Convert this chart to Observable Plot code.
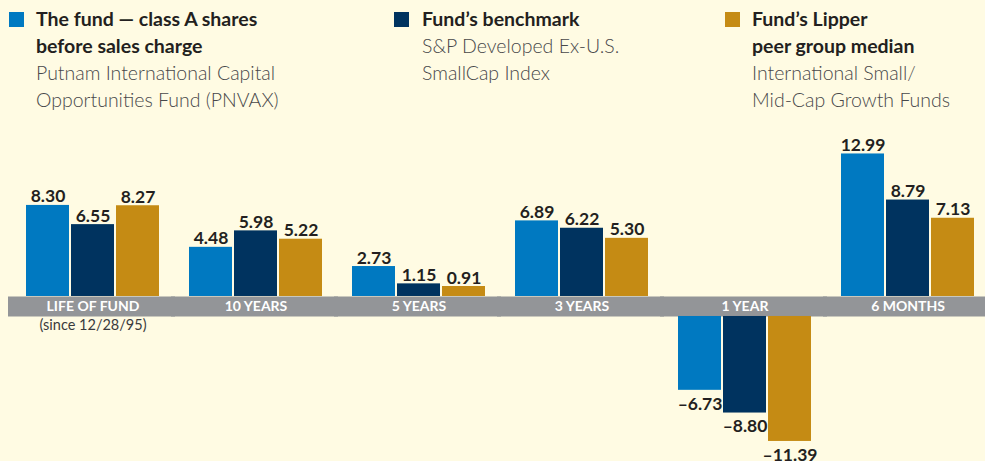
<!DOCTYPE html>
<html>
<head>
<meta charset="utf-8">
<script src="https://cdn.jsdelivr.net/npm/d3@7"></script>
<script src="https://cdn.jsdelivr.net/npm/@observablehq/plot@0.6"></script>
<style>
  html, body { margin: 0; padding: 0; background: #FFFBE3; }
  #wrap { width: 985px; height: 461px; overflow: hidden; position: relative; background: #FFFBE3; font-family: Lato, "Noto Sans", sans-serif; }
  #legend { position: relative; height: 120px; }
  .item { position: absolute; top: 5px; font-size: 19.5px; line-height: 27px; }
  .sw { position: absolute; width: 15px; height: 15px; top: 12px; }
  .b { font-weight: 700; color: #231F20; }
  .l { font-weight: 300; color: #48484A; }
  #chart svg { display: block; }
</style>
</head>
<body>
<div id="wrap">
  <div id="legend"></div>
  <div id="chart"></div>
</div>
<script>
const categories = ["LIFE OF FUND", "10 YEARS", "5 YEARS", "3 YEARS", "1 YEAR", "6 MONTHS"];
const subLabels = ["(since 12/28/95)", "", "", "", "", ""];
const seriesKeys = ["fund", "benchmark", "lipper"];
const seriesColors = ["#0079C1", "#00335F", "#C58B14"];
const fundValues = [8.30, 4.48, 2.73, 6.89, -6.73, 12.99];
const benchmarkValues = [6.55, 5.98, 1.15, 6.22, -8.80, 8.79];
const lipperValues = [8.27, 5.22, 0.91, 5.30, -11.39, 7.13];
const legendBold = [["The fund \u2014 class A shares", "before sales charge"], ["Fund\u2019s benchmark"], ["Fund\u2019s Lipper", "peer group median"]];
const legendLight = [["Putnam International Capital", "Opportunities Fund (PNVAX)"], ["S&P Developed Ex-U.S.", "SmallCap Index"], ["International Small/", "Mid-Cap Growth Funds"]];

// legend
const legendPos = [{sq: 9, tx: 36}, {sq: 394, tx: 422}, {sq: 725, tx: 752}];
const legend = document.getElementById("legend");
legendPos.forEach((p, i) => {
  const sw = document.createElement("div");
  sw.className = "sw";
  sw.style.left = p.sq + "px";
  sw.style.background = seriesColors[i];
  legend.appendChild(sw);
  const it = document.createElement("div");
  it.className = "item";
  it.style.left = p.tx + "px";
  legendBold[i].forEach(t => { const d = document.createElement("div"); d.className = "b"; d.textContent = t; it.appendChild(d); });
  legendLight[i].forEach(t => { const d = document.createElement("div"); d.className = "l"; d.textContent = t; it.appendChild(d); });
  legend.appendChild(it);
});

const valuesBySeries = [fundValues, benchmarkValues, lipperValues];
const rows = [];
categories.forEach((c, ci) => seriesKeys.forEach((s, si) => rows.push({category: c, series: s, value: valuesBySeries[si][ci]})));
const pos = rows.filter(d => d.value >= 0);
const neg = rows.filter(d => d.value < 0);
const cats = categories.map((c, i) => ({category: c, sub: subLabels[i]}));
const fmt = v => (v < 0 ? "\u2013" : "") + Math.abs(v).toFixed(2);
const GAP = 20;

const plot = Plot.plot({
  width: 985,
  height: 341,
  marginTop: 0,
  marginBottom: 0,
  marginLeft: 25,
  marginRight: 11,
  style: {background: "#FFFBE3", fontFamily: "Lato, 'Noto Sans', sans-serif", overflow: "visible"},
  fx: {domain: categories, paddingInner: 0.186, paddingOuter: 0, axis: null, label: null},
  x: {domain: seriesKeys, paddingInner: 0.045, paddingOuter: 0, axis: null, label: null},
  y: {domain: [-15.04, 16.04], axis: null, label: null},
  color: {domain: seriesKeys, range: seriesColors},
  marks: [
    Plot.ruleY([0], {stroke: "#939598", strokeWidth: GAP, dy: GAP / 2, insetLeft: -18, insetRight: -16}),
    Plot.barY(pos, {fx: "category", x: "series", y1: 0, y2: "value", fill: "series"}),
    Plot.barY(neg, {fx: "category", x: "series", y1: 0, y2: "value", fill: "series", dy: GAP}),
    Plot.text(pos, {fx: "category", x: "series", y: "value", text: d => fmt(d.value), lineAnchor: "bottom", dy: -3, fontSize: 17.5, fontWeight: 700, fill: "#231F20"}),
    Plot.text(neg, {fx: "category", x: "series", y: "value", text: d => fmt(d.value), lineAnchor: "top", dy: GAP + 7, fontSize: 17.5, fontWeight: 700, fill: "#231F20"}),
    Plot.text(cats, {fx: "category", y: 0, text: "category", lineAnchor: "middle", dy: GAP / 2, fontSize: 14, fontWeight: 700, fill: "#FFFFFF"}),
    Plot.text(cats, {fx: "category", y: 0, text: "sub", lineAnchor: "top", dy: GAP + 3, fontSize: 14.5, fill: "#3A3A3C"})
  ]
});
document.getElementById("chart").appendChild(plot);
</script>
</body>
</html>
